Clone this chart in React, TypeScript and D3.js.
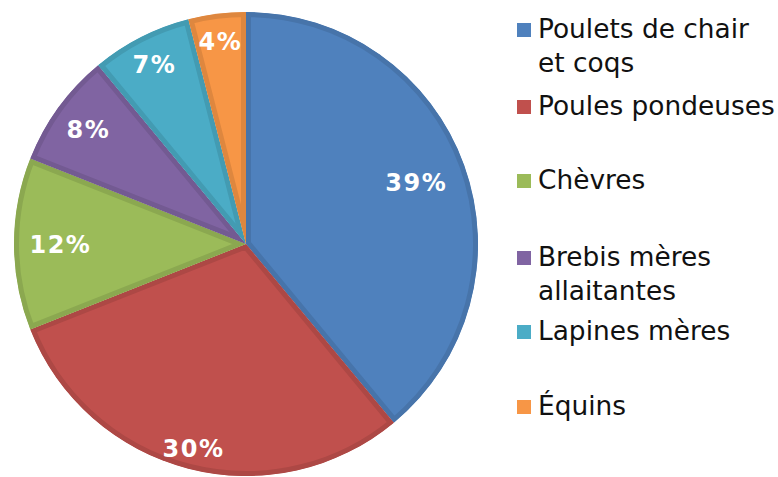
import React from "react";
import * as d3 from "d3";

const categories = ["Poulets de chair et coqs", "Poules pondeuses", "Chèvres", "Brebis mères allaitantes", "Lapines mères", "Équins"];
const values = [39, 30, 12, 8, 7, 4];
const colors = ["#4F81BD", "#C0504D", "#9BBB59", "#8064A2", "#4BACC6", "#F79646"];
const legendLines = [["Poulets de chair", "et coqs"], ["Poules pondeuses"], ["Chèvres"], ["Brebis mères", "allaitantes"], ["Lapines mères"], ["Équins"]];
const legendBaselines = [38, 115, 189, 266, 340, 415];
const labelRadiusRatio = [0.78, 0.91, 0.8, 0.84, 0.87, 0.88];

const W = 778, H = 477;
const cx = 246, cy = 244, R = 232;

export default function App() {
  const pie = d3.pie<number>().sort(null).value((d) => d)(values);
  const arc = d3.arc<d3.PieArcDatum<number>>().innerRadius(0).outerRadius(R);
  const total = d3.sum(values);
  return (
    <svg width={W} height={H} style={{ position: "absolute", left: 0, top: 0, background: "#fff" }}>
      <defs>
        {pie.map((p, i) => (
          <clipPath id={`clip${i}`} key={i}>
            <path d={arc(p) || ""} />
          </clipPath>
        ))}
      </defs>
      <g transform={`translate(${cx},${cy})`}>
        {pie.map((p, i) => (
          <path
            key={i}
            d={arc(p) || ""}
            fill={colors[i]}
            stroke={d3.color(colors[i])!.darker(0.3).formatHex()}
            strokeWidth={10}
            clipPath={`url(#clip${i})`}
          />
        ))}
        {pie.map((p, i) => {
          const a = (p.startAngle + p.endAngle) / 2;
          const r = R * labelRadiusRatio[i];
          const x = Math.sin(a) * r;
          const y = -Math.cos(a) * r;
          return (
            <text
              key={i}
              x={x}
              y={y}
              dy="0.36em"
              textAnchor="middle"
              fill="#fff"
              fontFamily="DejaVu Sans"
              fontWeight="bold"
              fontSize={24}
              letterSpacing={1.5}
            >
              {Math.round((values[i] / total) * 100)}%
            </text>
          );
        })}
      </g>
      <g>
        {categories.map((c, i) => (
          <g key={c}>
            <rect x={517} y={legendBaselines[i] - 15} width={14} height={14} fill={colors[i]} />
            {legendLines[i].map((line, j) => (
              <text key={j} x={538} y={legendBaselines[i] + j * 34} fontFamily="DejaVu Sans" fontSize={26.4} fill="#111">
                {line}
              </text>
            ))}
          </g>
        ))}
      </g>
    </svg>
  );
}
